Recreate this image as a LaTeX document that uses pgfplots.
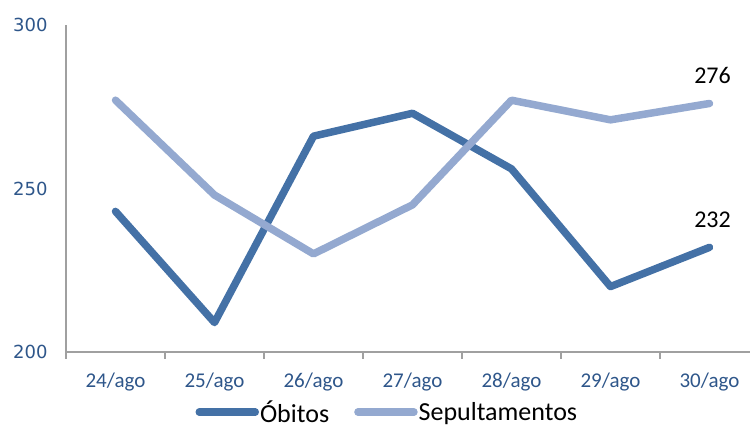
\documentclass[border=0pt]{standalone}
\usepackage{pgfplots}
\pgfplotsset{compat=1.18}
\usepackage{fontspec}
\setmainfont{Carlito}
\newfontfamily\yfont{DejaVu Sans}
\definecolor{obit}{HTML}{4471A6}
\definecolor{sepu}{HTML}{94A9D0}
\definecolor{ticktxt}{HTML}{2E568A}
\definecolor{axgray}{HTML}{A0A0A0}
\begin{document}
\begin{tikzpicture}
\begin{axis}[
  at={(0,0)}, anchor=south west,
  scale only axis, width=693pt, height=327pt,
  xmin=-0.5, xmax=6.5, ymin=200, ymax=300,
  axis lines*=left,
  axis line style={axgray, line width=1.5pt, -},
  /pgf/number format/assume math mode=true,
  xtick={0,...,6},
  xticklabels={24/ago,25/ago,26/ago,27/ago,28/ago,29/ago,30/ago},
  minor xtick={-0.5,0.5,...,6.5},
  major tick length=0pt,
  minor tick length=7pt,
  tick align=outside,
  minor tick style={axgray, line width=1.5pt},
  ytick={200,250,300},
  xticklabel style={font=\fontsize{21}{23}\selectfont, text=ticktxt, yshift=-17pt},
  yticklabel style={font=\yfont\fontsize{18}{20}\selectfont, text=ticktxt, xshift=-15pt},
  clip=false,
  legend columns=2,
  legend style={at={(axis description cs:0.463,-0.184)}, anchor=center, draw=none, fill=none,
    font=\fontsize{26}{28}\selectfont, inner sep=0pt,
    nodes={inner sep=1pt},
    /tikz/every even column/.append style={column sep=24pt}},
  legend image code/.code={\draw[#1, line cap=round] (0pt,0pt) -- (56pt,0pt);},
]
\addplot[obit, line width=7.5pt, line join=round, line cap=round] coordinates {
 (0,243) (1,209) (2,266) (3,273) (4,256) (5,220) (6,232)};
\addlegendentry{Óbitos}
\addplot[sepu, line width=7.5pt, line join=round, line cap=round] coordinates {
 (0,277) (1,248) (2,230) (3,245) (4,277) (5,271) (6,276)};
\addlegendentry{Sepultamentos}
\node[font=\fontsize{24}{26}\selectfont, anchor=south] at (axis cs:6,276) [xshift=3pt, yshift=16pt] {276};
\node[font=\fontsize{24}{26}\selectfont, anchor=south] at (axis cs:6,232) [xshift=3pt, yshift=16pt] {232};
\end{axis}
\pgfresetboundingbox
\useasboundingbox (-66pt,-75pt) rectangle (684pt,352pt);
\end{tikzpicture}
\end{document}
